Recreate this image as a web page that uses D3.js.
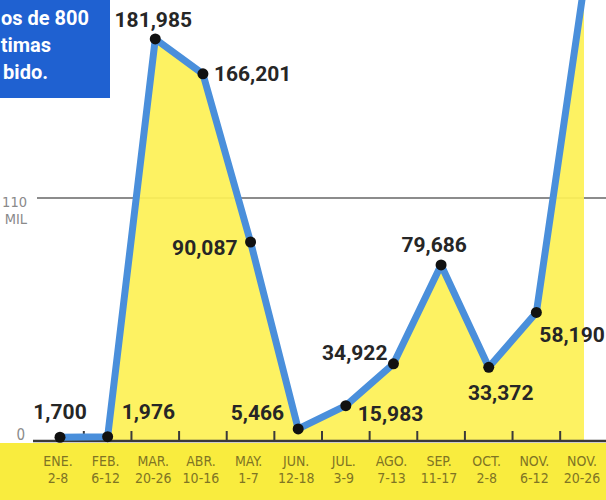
<!DOCTYPE html>
<html>
<head>
<meta charset="utf-8">
<script src="https://cdn.jsdelivr.net/npm/d3@7/dist/d3.min.js"></script>
<style>
  html, body { margin: 0; padding: 0; background: #fff; overflow: hidden; }
  svg { display: block; }
</style>
</head>
<body>
<svg id="chart" width="606" height="500"></svg>
<script>
// ---- data ----
const months = ["ENE.", "FEB.", "MAR.", "ABR.", "MAY.", "JUN.", "JUL.", "AGO.", "SEP.", "OCT.", "NOV.", "NOV."];
const ranges = ["2-8", "6-12", "20-26", "10-16", "1-7", "12-18", "3-9", "7-13", "11-17", "2-8", "6-12", "20-26"];
const values = [1700, 1976, 181985, 166201, 90087, 5466, 15983, 34922, 79686, 33372, 58190, 206000];
const valueLabels = ["1,700", "1,976", "181,985", "166,201", "90,087", "5,466", "15,983", "34,922", "79,686", "33,372", "58,190", ""];
const gridValue = 110000;
const gridLabel = ["110", "MIL"];
const boxText = ["os de 800", "timas", "bido."];

// ---- layout (label placement relative to each point) ----
const labelPlace = [
  {dx: 0, dy: -18, a: "middle"},
  {dx: 14, dy: -18, a: "start"},
  {dx: -2, dy: -12, a: "middle"},
  {dx: 11, dy: 7, a: "start"},
  {dx: -13, dy: 13, a: "end"},
  {dx: -14, dy: -9, a: "end"},
  {dx: 12, dy: 15, a: "start"},
  {dx: -6, dy: -4, a: "end"},
  {dx: -7, dy: -13, a: "middle"},
  {dx: 12, dy: 33, a: "middle"},
  {dx: 3, dy: 30, a: "start"},
  {dx: 0, dy: 0, a: "start"}
];

const svg = d3.select("#chart");
const idx = d3.range(values.length);

const x = d3.scalePoint().domain(idx).range([60, 584]);
const y = d3.scaleLinear().domain([0, gridValue]).range([441, 198]);
const step = x.step();

// bottom yellow band
svg.append("rect").attr("x", 0).attr("y", 443).attr("width", 606).attr("height", 57).attr("fill", "#f9ec3e");

// gridline 110 MIL
svg.append("line")
  .attr("x1", 37).attr("x2", 606)
  .attr("y1", y(gridValue)).attr("y2", y(gridValue))
  .attr("stroke", "#666").attr("stroke-width", 1.6);

svg.selectAll("text.grid").data(gridLabel).join("text")
  .attr("class", "grid")
  .attr("x", 27).attr("y", (d, i) => y(gridValue) + 9 + i * 17)
  .attr("text-anchor", "end")
  .attr("font-family", "'DejaVu Sans Condensed', 'Liberation Sans Narrow', sans-serif")
  .attr("font-size", 14.5).attr("fill", "#8a8a8a")
  .text(d => d);

// area
const area = d3.area().x(i => x(i)).y0(y(0)).y1(i => y(values[i]));
svg.append("path").datum(idx).attr("d", area).attr("fill", "#fdf156").attr("fill-opacity", 0.93);

// baseline axis
svg.append("line")
  .attr("x1", 33).attr("x2", 606).attr("y1", y(0)).attr("y2", y(0))
  .attr("stroke", "#3a3a3a").attr("stroke-width", 2.5);

// ticks between categories
svg.selectAll("line.tick").data(idx).join("line")
  .attr("class", "tick")
  .attr("x1", i => x(i) + step / 2).attr("x2", i => x(i) + step / 2)
  .attr("y1", y(0)).attr("y2", y(0) - 10)
  .attr("stroke", "#3a3a3a").attr("stroke-width", 2);

// zero label
svg.append("text")
  .attr("x", 25).attr("y", y(0) - 1)
  .attr("text-anchor", "end")
  .attr("font-family", "'DejaVu Sans Condensed', 'Liberation Sans Narrow', sans-serif")
  .attr("font-size", 15).attr("fill", "#8a8a8a")
  .text("0");

// line
const line = d3.line().x(i => x(i)).y(i => y(values[i]));
svg.append("path").datum(idx).attr("d", line)
  .attr("fill", "none").attr("stroke", "#4a8fdb").attr("stroke-width", 7)
  .attr("stroke-linejoin", "round");

// dots
svg.selectAll("circle.pt").data(idx.slice(0, values.length - 1)).join("circle")
  .attr("class", "pt")
  .attr("cx", i => x(i)).attr("cy", i => y(values[i])).attr("r", 5.5)
  .attr("fill", "#111");

// value labels
svg.selectAll("text.val").data(idx).join("text")
  .attr("class", "val")
  .attr("x", i => x(i) + labelPlace[i].dx)
  .attr("y", i => y(values[i]) + labelPlace[i].dy)
  .attr("text-anchor", i => labelPlace[i].a)
  .attr("font-family", "Roboto, 'Open Sans', sans-serif")
  .attr("font-weight", "bold")
  .attr("font-size", 21).attr("fill", "#262626")
  .text(i => valueLabels[i]);

// category labels
const cat = svg.selectAll("g.cat").data(idx).join("g").attr("class", "cat");
cat.append("text")
  .attr("x", i => x(i) - 2).attr("y", 466)
  .attr("text-anchor", "middle")
  .attr("font-family", "'DejaVu Sans Condensed', 'Liberation Sans Narrow', sans-serif")
  .attr("font-size", 14).attr("fill", "#7f7424")
  .text(i => months[i]);
cat.append("text")
  .attr("x", i => x(i) - 2).attr("y", 483)
  .attr("text-anchor", "middle")
  .attr("font-family", "'DejaVu Sans Condensed', 'Liberation Sans Narrow', sans-serif")
  .attr("font-size", 14).attr("fill", "#7f7424")
  .text(i => ranges[i]);

// blue box top-left
svg.append("rect").attr("x", 0).attr("y", 0).attr("width", 110).attr("height", 98).attr("fill", "#1f61d1");
svg.selectAll("text.box").data(boxText).join("text")
  .attr("class", "box")
  .attr("x", (d, i) => [89, 51, 48][i]).attr("y", (d, i) => 25 + i * 27)
  .attr("text-anchor", "end")
  .attr("font-family", "Roboto, 'Open Sans', sans-serif")
  .attr("font-weight", "bold")
  .attr("font-size", 20).attr("fill", "#fff")
  .text(d => d);
</script>
</body>
</html>
